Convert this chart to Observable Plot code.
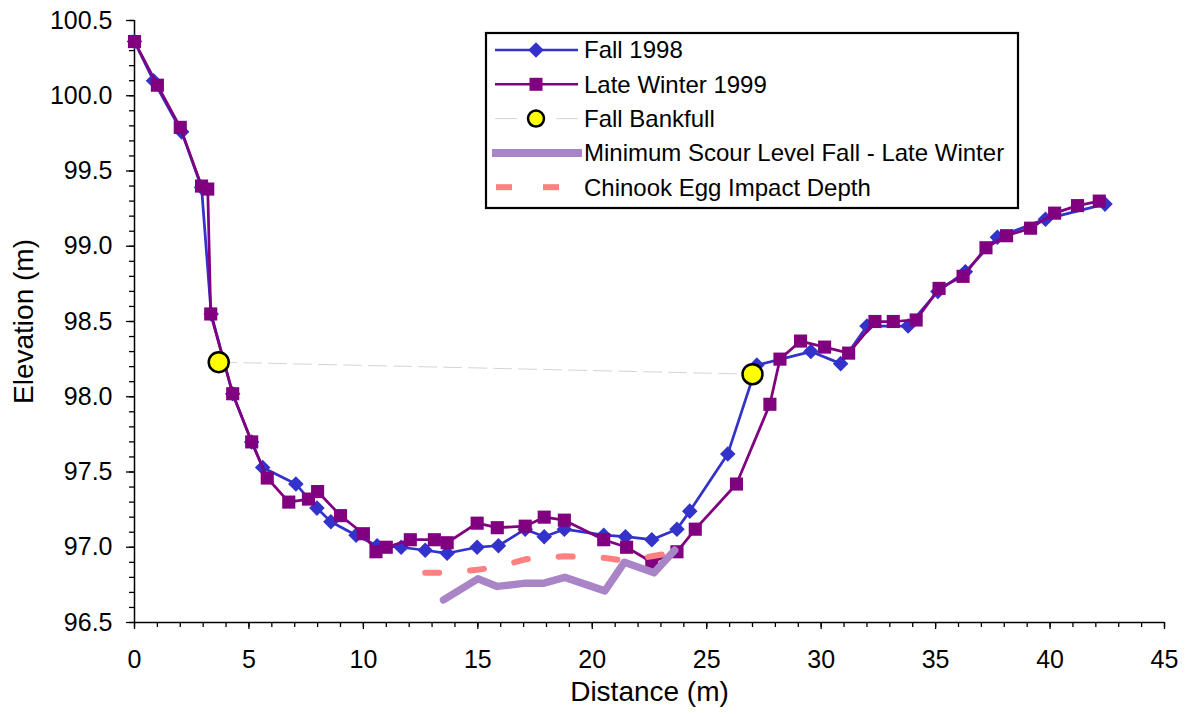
<!DOCTYPE html>
<html>
<head>
<meta charset="utf-8">
<script src="https://cdn.jsdelivr.net/npm/d3@7"></script>
<script src="https://cdn.jsdelivr.net/npm/@observablehq/plot@0.6"></script>
<style>
  body { margin: 0; background: #fff; }
  #chart { position: relative; width: 1188px; height: 714px; font-family: "Liberation Sans", Arial, sans-serif; }
  #chart svg { position: absolute; left: 0; top: 0; }
</style>
</head>
<body>
<div id="chart"></div>
<script>
// Cross-section survey: distance across the channel (m) and bed elevation (m)
const fallX = [0, 0.83, 2.06, 2.93, 3.35, 4.29, 5.12, 5.6, 7.05, 7.97, 8.58, 9.68, 10.6, 11.65, 12.7, 13.66,
  14.97, 15.9, 17.07, 17.9, 18.78, 20.5, 21.45, 22.6, 23.7, 24.26, 25.92, 27.19, 29.55, 30.85, 32.0,
  33.8, 35.1, 36.3, 37.7, 39.8, 42.4];
const fallY = [100.36, 100.10, 99.76, 99.39, 98.55, 98.02, 97.70, 97.53, 97.42, 97.26, 97.17, 97.08, 97.01, 97.00, 96.98, 96.96,
  97.00, 97.01, 97.12, 97.07, 97.12, 97.08, 97.07, 97.05, 97.12, 97.24, 97.62, 98.21, 98.30, 98.22, 98.47,
  98.47, 98.70, 98.83, 99.06, 99.18, 99.28];

const winterX = [0, 1.0, 2.0, 2.93, 3.2, 3.33, 4.29, 5.12, 5.8, 6.74, 7.6, 8.0, 9.0, 10.0, 10.55, 11.0, 12.05,
  13.1, 13.66, 14.97, 15.85, 17.07, 17.9, 18.78, 20.5, 21.5, 22.6, 23.7, 24.5, 26.3, 27.76, 28.2, 29.1,
  30.15, 31.2, 32.35, 33.15, 34.15, 35.15, 36.2, 37.2, 38.1, 39.15, 40.2, 41.2, 42.15];
const winterY = [100.36, 100.07, 99.79, 99.40, 99.38, 98.55, 98.02, 97.70, 97.46, 97.30, 97.32, 97.37, 97.21, 97.09, 96.97, 97.00, 97.05,
  97.05, 97.03, 97.16, 97.13, 97.14, 97.20, 97.18, 97.05, 97.00, 96.90, 96.97, 97.12, 97.42, 97.95, 98.25, 98.37,
  98.33, 98.29, 98.50, 98.50, 98.51, 98.72, 98.80, 98.99, 99.07, 99.12, 99.22, 99.27, 99.30];

const bankfullX = [3.68, 27.0];
const bankfullY = [98.23, 98.15];

const scourX = [13.5, 15.0, 15.85, 17.0, 17.85, 18.8, 20.55, 21.4, 22.7, 23.6];
const scourY = [96.65, 96.79, 96.74, 96.76, 96.76, 96.80, 96.71, 96.90, 96.83, 96.98];

const eggX = [12.7, 13.66, 14.97, 15.9, 17.07, 17.9, 18.78, 20.5, 21.45, 22.6, 23.7];
const eggY = [96.83, 96.83, 96.85, 96.87, 96.92, 96.93, 96.94, 96.93, 96.91, 96.94, 96.97];

const xMajor = d3.range(0, 46, 5);
const xMinor = d3.range(0, 46, 1);
const yMajor = d3.range(96.5, 100.51, 0.5);
const yMinor = d3.range(0, 41).map(i => 96.5 + i * 0.1);

const seriesNames = ["Fall 1998", "Late Winter 1999", "Fall Bankfull",
  "Minimum Scour Level Fall - Late Winter", "Chinook Egg Impact Depth"];

const colors = {
  fall: "#3333CC",
  winter: "#800080",
  bankLine: "#d4d4d4",
  bank: "#FFFF00",
  scour: "#A984C6",
  egg: "#FF8080"
};

const pts = (xs, ys) => xs.map((x, i) => ({x, y: ys[i]}));
const fall = pts(fallX, fallY);
const winter = pts(winterX, winterY);
const bankfull = pts(bankfullX, bankfullY);
const scour = pts(scourX, scourY);
const egg = pts(eggX, eggY);

const W = 1188, H = 714;
const M = {top: 20, right: 24, bottom: 92, left: 134};
const font = "'Liberation Sans', Arial, sans-serif";

const plot = Plot.plot({
  width: W,
  height: H,
  marginTop: M.top,
  marginRight: M.right,
  marginBottom: M.bottom,
  marginLeft: M.left,
  style: {fontFamily: font, fontSize: "25px", background: "#fff", color: "#000", overflow: "visible"},
  x: {domain: [0, 45]},
  y: {domain: [96.5, 100.5]},
  marks: [
    // axes: major ticks with labels, minor ticks without
    Plot.axisX(xMajor, {tickSize: 7, tickPadding: 21, fontSize: 25, label: null, stroke: "#000", strokeWidth: 1.3}),
    Plot.axisX(xMinor, {tickSize: 5, tickFormat: () => "", label: null, stroke: "#000", strokeWidth: 1.3}),
    Plot.axisY(yMajor, {tickSize: 8, tickPadding: 14, fontSize: 25, tickFormat: d => d.toFixed(1), label: null, stroke: "#000", strokeWidth: 1.3}),
    Plot.axisY(yMinor, {tickSize: 5, tickFormat: () => "", label: null, stroke: "#000", strokeWidth: 1.3}),
    Plot.ruleX([0], {stroke: "#000", strokeWidth: 1.5}),
    Plot.ruleY([96.5], {stroke: "#000", strokeWidth: 1.5}),

    // Fall 1998 survey
    Plot.line(fall, {x: "x", y: "y", stroke: colors.fall, strokeWidth: 2.75}),
    Plot.dot(fall, {x: "x", y: "y", symbol: "diamond2", r: 7, fill: colors.fall, stroke: "none"}),

    // Late winter 1999 survey
    Plot.line(winter, {x: "x", y: "y", stroke: colors.winter, strokeWidth: 2.75}),
    Plot.dot(winter, {x: "x", y: "y", symbol: "square", r: 7.4, fill: colors.winter, stroke: "none"}),

    // Bankfull stage
    Plot.line(bankfull, {x: "x", y: "y", stroke: colors.bankLine, strokeWidth: 1, strokeDasharray: "18,7"}),
    Plot.dot(bankfull, {x: "x", y: "y", r: 10, fill: colors.bank, stroke: "#000", strokeWidth: 2.5}),

    // Minimum scour level between surveys
    Plot.line(scour, {x: "x", y: "y", stroke: colors.scour, strokeWidth: 7.5, strokeLinejoin: "round"}),

    // Depth at which chinook eggs are impacted
    Plot.line(egg, {x: "x", y: "y", stroke: colors.egg, strokeWidth: 6, strokeDasharray: "14,31"}),

    // axis titles
    Plot.text(["Distance (m)"], {frameAnchor: "bottom", dy: 70, fontSize: 28, lineAnchor: "middle", textAnchor: "middle", fill: "#000"}),
    Plot.text(["Elevation (m)"], {frameAnchor: "left", dx: -110, rotate: -90, fontSize: 28, lineAnchor: "middle", textAnchor: "middle", fill: "#000"})
  ]
});

const chart = document.getElementById("chart");
chart.appendChild(plot);

// Legend drawn in its own layer over the plot area
const leg = d3.select(chart).append("svg")
  .attr("width", W).attr("height", H)
  .style("pointer-events", "none")
  .style("font-family", font);

const box = {x: 486, y: 33, w: 532, h: 175};
leg.append("rect")
  .attr("x", box.x).attr("y", box.y).attr("width", box.w).attr("height", box.h)
  .attr("fill", "#fff").attr("stroke", "#000").attr("stroke-width", 2.2);

const rowY = i => 50 + i * 34.3;
const sx0 = 495, sx1 = 578, sxm = 536, tx = 584;

seriesNames.forEach((name, i) => {
  const g = leg.append("g").attr("transform", `translate(0,${rowY(i)})`);
  if (i === 0) {
    g.append("line").attr("x1", sx0).attr("x2", sx1).attr("stroke", colors.fall).attr("stroke-width", 2.5);
    g.append("path").attr("d", d3.symbol(d3.symbolDiamond2, Math.PI * 49)()).attr("transform", `translate(${sxm},0)`).attr("fill", colors.fall);
  } else if (i === 1) {
    g.append("line").attr("x1", sx0).attr("x2", sx1).attr("stroke", colors.winter).attr("stroke-width", 2.5);
    g.append("rect").attr("x", sxm - 6.5).attr("y", -6.5).attr("width", 13).attr("height", 13).attr("fill", colors.winter);
  } else if (i === 2) {
    g.append("line").attr("x1", sx0).attr("x2", 517).attr("stroke", colors.bankLine).attr("stroke-width", 1);
    g.append("line").attr("x1", 556).attr("x2", sx1).attr("stroke", colors.bankLine).attr("stroke-width", 1);
    g.append("circle").attr("cx", sxm).attr("r", 8).attr("fill", colors.bank).attr("stroke", "#000").attr("stroke-width", 2.5);
  } else if (i === 3) {
    g.append("line").attr("x1", 492).attr("x2", 582).attr("stroke", colors.scour).attr("stroke-width", 8);
  } else {
    g.append("line").attr("x1", 496).attr("x2", 512).attr("stroke", colors.egg).attr("stroke-width", 6);
    g.append("line").attr("x1", 543).attr("x2", 559).attr("stroke", colors.egg).attr("stroke-width", 6);
  }
  g.append("text").attr("x", tx).attr("y", 0).attr("dy", "0.35em")
    .attr("font-size", 24).attr("fill", "#000").text(name);
});
</script>
</body>
</html>
